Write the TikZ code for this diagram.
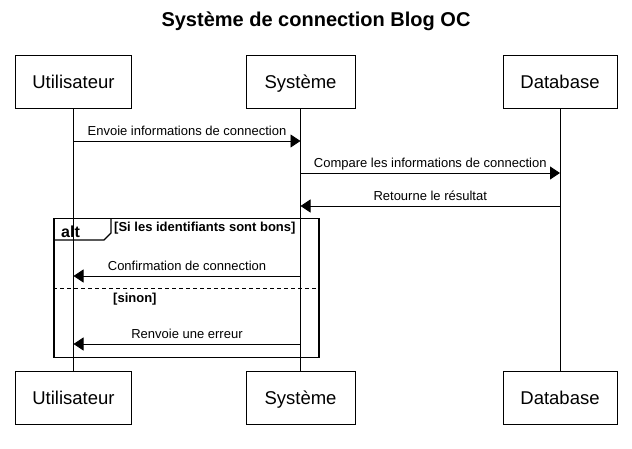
\documentclass[tikz,border=0pt]{standalone}
\usepackage{fontspec}
\setmainfont{Liberation Sans}
\usetikzlibrary{arrows.meta}

\begin{document}
\begin{tikzpicture}[x=1pt, y=-1pt,
    actor/.style={draw, line width=0.9pt, minimum width=#1, minimum height=53pt, inner sep=0pt, text height=14pt, text depth=0pt, font=\fontsize{18.5}{20}\selectfont},
    msg/.style={-{Triangle[length=10pt, width=13pt]}, line width=0.8pt},
    lbl/.style={midway, above=5pt, inner sep=0pt, text depth=0pt, font=\fontsize{13}{15}\selectfont},
    guard/.style={anchor=base west, inner sep=0pt, font=\bfseries\fontsize{13}{15}\selectfont}]
    \useasboundingbox (0,0) rectangle (632,449);

    % Title
    \node[font=\bfseries\fontsize{20}{22}\selectfont] (title) at (316,21) {Système de connection Blog OC};

    % Participants (top and bottom)
    \node[actor=116pt] (user) at (73.5,81.5) {Utilisateur};
    \node[actor=109pt] (sys) at (300.5,81.5) {Système};
    \node[actor=114pt] (db) at (560,81.5) {Database};

    \node[actor=116pt] (userB) at (73.5,397.5) {Utilisateur};
    \node[actor=109pt] (sysB) at (300.5,397.5) {Système};
    \node[actor=114pt] (dbB) at (560,397.5) {Database};

    % Lifelines
    \draw[line width=0.8pt] (user) -- (userB);
    \draw[line width=0.8pt] (sys) -- (sysB);
    \draw[line width=0.8pt] (db) -- (dbB);

    % Message points
    \coordinate (u1) at (73.5,141);  \coordinate (s1) at (300.5,141);
    \coordinate (s2) at (300.5,173); \coordinate (d2) at (560,173);
    \coordinate (d3) at (560,206);   \coordinate (s3) at (300.5,206);
    \coordinate (s4) at (300.5,276); \coordinate (u4) at (73.5,276);
    \coordinate (s5) at (300.5,344); \coordinate (u5) at (73.5,344);

    % alt frame
    \node[draw, line width=1.4pt, minimum width=265pt, minimum height=139pt, inner sep=0pt] (alt) at (186.5,287.75) {};
    \draw[line width=1.2pt] (54,240) -- (104,240) -- (111,233) -- (111,218.3);
    \node[anchor=base west, inner sep=0pt, font=\bfseries\fontsize{16}{18}\selectfont] (altlbl) at (61,237) {alt};
    \node[guard] (g1) at (114,232) {[Si les identifiants sont bons]};
    \draw[line width=1pt, dash pattern=on 4pt off 3pt] (alt.west |- 0,288) -- (alt.east |- 0,288);
    \node[guard] (g2) at (113,302) {[sinon]};

    % Messages
    \draw[msg] (u1) -- (s1) node[lbl] {Envoie informations de connection};
    \draw[msg] (s2) -- (d2) node[lbl] {Compare les informations de connection};
    \draw[msg] (d3) -- (s3) node[lbl] {Retourne le résultat};
    \draw[msg] (s4) -- (u4) node[lbl] {Confirmation de connection};
    \draw[msg] (s5) -- (u5) node[lbl] {Renvoie une erreur};
\end{tikzpicture}
\end{document}
